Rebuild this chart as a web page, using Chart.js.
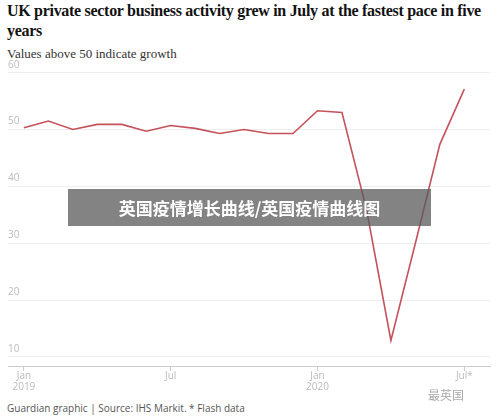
<!DOCTYPE html>
<html><head><meta charset="utf-8">
<script src="https://cdn.jsdelivr.net/npm/chart.js@4"></script>
<style>
body{margin:0;width:500px;height:417px;background:#fff;position:relative;overflow:hidden;font-family:"Liberation Serif",serif}
#t{position:absolute;left:7px;top:1px;font-size:16px;font-weight:bold;line-height:20px;color:#121212;letter-spacing:-0.3px;white-space:nowrap}
#s{position:absolute;left:7px;top:46px;font-size:13px;color:#333}
#c{position:absolute;left:0;top:54px;width:500px;height:338px}
#f{position:absolute;left:7px;top:401px;font-family:"Open Sans",sans-serif;font-size:10px;color:#555}
#w{position:absolute;left:428px;top:386px;font-family:"Noto Sans CJK SC";font-size:12px;color:#aaa}
#o{position:absolute;left:68px;top:189px;width:363px;height:37px;background:rgba(90,90,90,0.75);color:#fff;font-family:"Noto Sans CJK SC";font-weight:bold;font-size:17px;line-height:37px;text-align:center}
</style></head><body>
<div id="t">UK private sector business activity grew in July at the fastest pace in five<br>years</div>
<div id="s">Values above 50 indicate growth</div>
<div id="c"><canvas id="cv"></canvas></div>
<div id="f">Guardian graphic | Source: IHS Markit. * Flash data</div>
<div id="w">最英国</div>
<div id="o">英国疫情增长曲线/英国疫情曲线图</div>
<script>
const months=["Jan 2019","Feb","Mar","Apr","May","Jun","Jul","Aug","Sep","Oct","Nov","Dec","Jan 2020","Feb","Mar","Apr","May","Jun","Jul*"];
const pmi=[50.3,51.5,50.0,50.9,50.9,49.7,50.7,50.2,49.3,50.0,49.3,49.3,53.3,53.0,36.0,12.9,30.0,47.4,57.1];
const tickLabels={0:["Jan","2019"],6:["Jul"],12:["Jan","2020"],18:["Jul*"]};
const yTicks=[10,20,30,40,50,60];
new Chart(document.getElementById('cv'),{type:'line',
data:{datasets:[{data:pmi.map((v,i)=>({x:i,y:v})),borderColor:'#c5525a',borderWidth:1.6,pointRadius:0,tension:0}]},
options:{responsive:true,maintainAspectRatio:false,animation:false,
plugins:{legend:{display:false},tooltip:{enabled:false}},
layout:{padding:{left:8,right:10,top:13,bottom:0}},
scales:{
x:{type:'linear',min:-0.65,max:19.05,afterBuildTicks:a=>{a.ticks=[0,6,12,18].map(v=>({value:v}))},
grid:{drawOnChartArea:false,color:'#ccc',tickLength:5},border:{color:'#ccc'},
ticks:{autoSkip:false,maxRotation:0,color:'#bbb',font:{family:'Open Sans',size:10,lineHeight:1.05},padding:0,callback:v=>tickLabels[v]||''}},
y:{min:8.4,max:61,afterBuildTicks:a=>{a.ticks=yTicks.map(v=>({value:v}))},
grid:{color:'#eee',drawTicks:false},border:{display:false},
ticks:{mirror:true,labelOffset:-8,padding:0,color:'#bbb',font:{family:'Open Sans',size:10}}}
}}});
</script></body></html>
